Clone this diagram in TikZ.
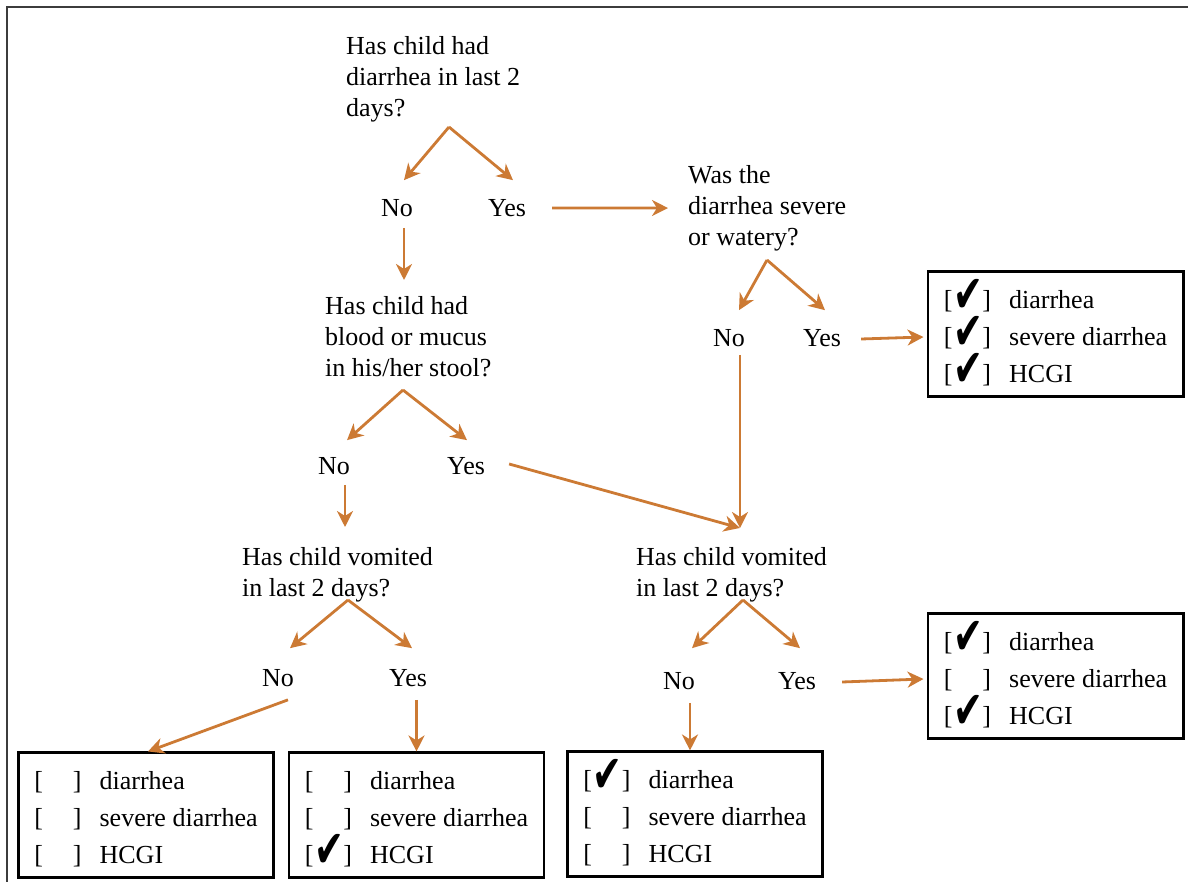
\documentclass[tikz,border=0pt]{standalone}
\usepackage{fontspec}
\setmainfont{Liberation Serif}
\newfontfamily\symfont{DejaVu Sans}
\usepackage{tikz}
\usetikzlibrary{arrows.meta, calc}

\definecolor{arrowc}{RGB}{204,122,52}
\definecolor{framec}{RGB}{60,60,60}

\newcommand{\qfont}{\fontsize{26}{31}\selectfont}
\newcommand{\bfont}{\fontsize{26}{37}\selectfont}
\newcommand{\tick}{\smash{\raisebox{-4pt}{\scalebox{0.85}[1.25]{\symfont\fontsize{42}{42}\selectfont ✔}}}}
\newcommand{\crow}[2]{[\makebox[30pt]{\hspace{1pt}#1}]\hspace{18pt}#2}

\tikzset{
  qtext/.style={align=left, anchor=north west, inner sep=0pt, font=\qfont},
  ans/.style={inner sep=0pt, font=\qfont},
  arr/.style={draw=arrowc, line width=2.8pt, -{Stealth[length=16pt,width=16pt,inset=5pt]}},
  result/.style={draw, line width=2.6pt, align=left, inner xsep=16pt, inner ysep=10pt, font=\bfont},
}

\begin{document}
\begin{tikzpicture}[x=1pt, y=-1pt]
  \useasboundingbox (0,0) rectangle (1188,882);
  \draw[framec, line width=2.5pt] (1188,7) -- (7,7) -- (7,882);

  % questions
  \node[qtext] (q1) at (346,36) {Has child had\\diarrhea in last 2\\days?};
  \node[qtext] (q2) at (688,165) {Was the\\diarrhea severe\\or watery?};
  \node[qtext] (q3) at (325,296) {Has child had\\blood or mucus\\in his/her stool?};
  \node[qtext] (q4) at (242,547) {Has child vomited\\in last 2 days?};
  \node[qtext] (q5) at (636,547) {Has child vomited\\in last 2 days?};

  % answers
  \node[ans] (no1) at (397,208) {No};
  \node[ans] (yes1) at (507,208) {Yes};
  \node[ans] (no2) at (729,338) {No};
  \node[ans] (yes2) at (822,338) {Yes};
  \node[ans] (no3) at (334,466) {No};
  \node[ans] (yes3) at (466,466) {Yes};
  \node[ans] (no4) at (278,678) {No};
  \node[ans] (yes4) at (408,678) {Yes};
  \node[ans] (no5) at (679,681) {No};
  \node[ans] (yes5) at (797,681) {Yes};

  % result boxes
  \node[result] (r1) at (1055.5,334) {\rule{0pt}{27pt}\crow{\tick}{diarrhea}\\\crow{\tick}{severe diarrhea}\\\crow{\tick}{HCGI}};
  \node[result] (r2) at (1055.5,676) {\rule{0pt}{27pt}\crow{\tick}{diarrhea}\\\crow{}{severe diarrhea}\\\crow{\tick}{HCGI}};
  \node[result] (ra) at (146,815) {\rule{0pt}{27pt}\crow{}{diarrhea}\\\crow{}{severe diarrhea}\\\crow{}{HCGI}};
  \node[result] (rb) at (416.5,815) {\rule{0pt}{27pt}\crow{}{diarrhea}\\\crow{}{severe diarrhea}\\\crow{\tick}{HCGI}};
  \node[result] (rc) at (695,814) {\rule{0pt}{27pt}\crow{\tick}{diarrhea}\\\crow{}{severe diarrhea}\\\crow{}{HCGI}};

  % split points
  \coordinate (a1) at (449,127);
  \coordinate (a2) at (767,260);
  \coordinate (a3) at (403,390);
  \coordinate (a4) at (348,600);
  \coordinate (a5) at (743,600);
  \coordinate (meet) at (740,528);

  \draw[arr] (a1) -- ([shift={(7pt,19pt)}]no1.north);
  \draw[arr] (a1) -- ([shift={(6pt,19pt)}]yes1.north);
  \draw[arr] (a2) -- ([shift={(10pt,19pt)}]no2.north);
  \draw[arr] (a2) -- ([shift={(3pt,19pt)}]yes2.north);
  \draw[arr] (a3) -- ([shift={(13pt,17pt)}]no3.north);
  \draw[arr] (a3) -- ([shift={(1pt,17pt)}]yes3.north);
  \draw[arr] (a4) -- ([shift={(12pt,21pt)}]no4.north);
  \draw[arr] (a4) -- ([shift={(4pt,21pt)}]yes4.north);
  \draw[arr] (a5) -- ([shift={(13pt,24pt)}]no5.north);
  \draw[arr] (a5) -- ([shift={(3pt,24pt)}]yes5.north);

  \draw[arr] ([xshift=26pt]yes1.east) -- ([xshift=-20pt]q2.west);
  \draw[arr] ([shift={(7pt,-11pt)}]no1.south) -- ([shift={(7pt,16pt)}]no1.south |- q3.north);
  \draw[arr] ([shift={(11pt,-10pt)}]no3.south) -- ([shift={(11pt,20pt)}]no3.south |- q4.north);
  \draw[arr] ([yshift=-8pt]no2.south -| meet) -- (meet);
  \draw[arr] ([shift={(24pt,2pt)}]yes3.east) -- (meet);

  \draw[arr] ([xshift=20pt,yshift=-1pt]yes2.east) -- ([shift={(-3pt,-3pt)}]r1.west);
  \draw[arr] ([xshift=26pt,yshift=-1pt]yes5.east) -- ([shift={(-3pt,-3pt)}]r2.west);
  \draw[arr] ([shift={(10pt,-13pt)}]no4.south) -- ([xshift=2pt]ra.north);
  \draw[arr] ([shift={(8.5pt,-13pt)}]yes4.south) -- (rb.north);
  \draw[arr] ([shift={(11pt,-13pt)}]no5.south) -- ([xshift=-5pt]rc.north);
\end{tikzpicture}
\end{document}
